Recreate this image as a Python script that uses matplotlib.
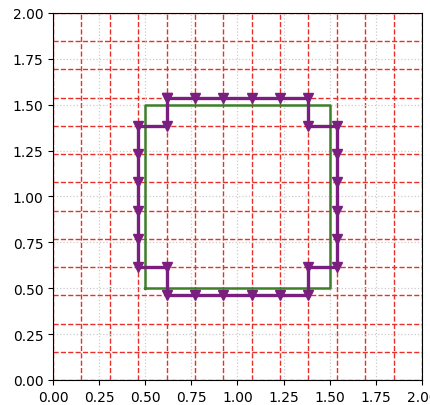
import numpy as np
import matplotlib
matplotlib.use("Agg")
import matplotlib.pyplot as plt

# grid of 13 cells over [0, 2]
n_cells = 13
domain = 2.0

# staircase path in grid-index units
path_ix = [4, 5, 6, 7, 8, 9, 9, 10, 10, 10, 10, 10, 10, 9, 9, 8, 7, 6, 5, 4, 4, 3, 3, 3, 3, 3, 3, 4, 4]
path_iy = [10, 10, 10, 10, 10, 10, 9, 9, 8, 7, 6, 5, 4, 4, 3, 3, 3, 3, 3, 3, 4, 4, 5, 6, 7, 8, 9, 9, 10]

# target square
square_x = [0.5, 1.5, 1.5, 0.5, 0.5]
square_y = [0.5, 0.5, 1.5, 1.5, 0.5]

ticks = [0.0, 0.25, 0.5, 0.75, 1.0, 1.25, 1.5, 1.75, 2.0]

h = domain / n_cells
px = np.array(path_ix) * h
py = np.array(path_iy) * h

fig = plt.figure(figsize=(4.31, 4.06), dpi=100)
ax = fig.add_axes([0.123, 0.0616, 0.856, 0.904])

ax.grid(True, color="#cccccc", linestyle=":", linewidth=0.9, zorder=0)
for k in range(n_cells + 1):
    ax.axvline(k * h, color="#e8302a", linestyle="--", linewidth=1.0, zorder=1)
    ax.axhline(k * h, color="#e8302a", linestyle="--", linewidth=1.0, zorder=1)

ax.plot(square_x, square_y, color="#3f7f2a", linewidth=1.8, zorder=2)
ax.plot(px, py, color="#7a1f80", linewidth=2.4, marker="v", markersize=7, zorder=3)

ax.set_xlim(0, 2)
ax.set_ylim(0, 2)
ax.set_xticks(ticks)
ax.set_yticks(ticks)
ax.set_xticklabels(["%.2f" % t for t in ticks])
ax.set_yticklabels(["%.2f" % t for t in ticks])
ax.set_aspect("auto")

fig.savefig("out.png", dpi=100)
